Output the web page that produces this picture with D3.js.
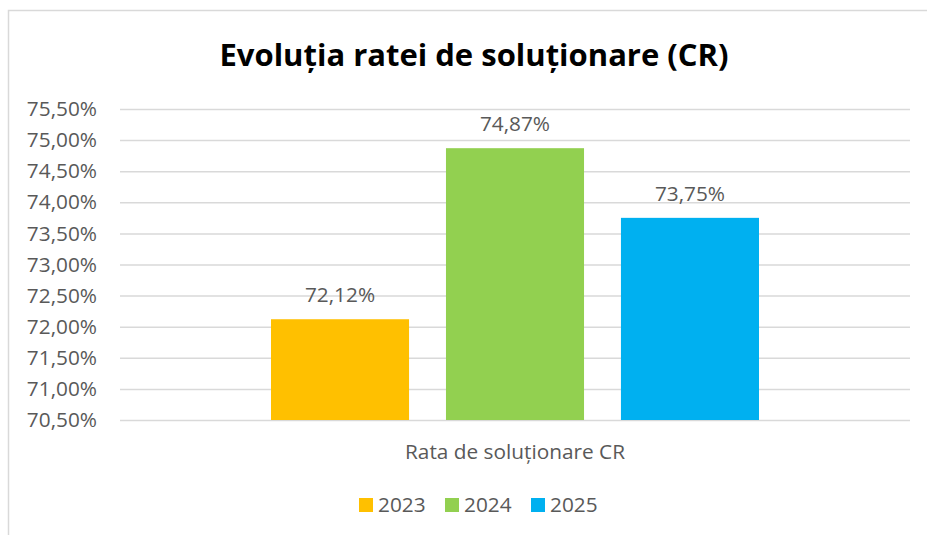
<!DOCTYPE html>
<html>
<head>
<meta charset="utf-8">
<script src="https://cdn.jsdelivr.net/npm/d3@7"></script>
<style>
  body { margin: 0; background: #fff; }
  text { font-family: "Open Sans", Lato, sans-serif; fill: #595959; }
</style>
</head>
<body>
<div id="chart-area"></div>
<script>
// Data
const years = ["2023", "2024", "2025"]
const rates = [72.12, 74.87, 73.75]
const colors = ["#FFC000", "#92D050", "#00B0F0"]
const yTicks = [70.5, 71, 71.5, 72, 72.5, 73, 73.5, 74, 74.5, 75, 75.5]
const category = "Rata de soluționare CR"
const title = "Evoluția ratei de soluționare (CR)"

const W = 927, H = 535
const plot = { left: 120, right: 910, top: 109, bottom: 420 }
const fontSize = "20.8px"

const fmt = v => d3.format(".2f")(v).replace(".", ",") + "%"

const svg = d3.select("#chart-area")
  .append("svg")
    .attr("width", W)
    .attr("height", H)

// chart frame
svg.append("rect")
  .attr("x", 8.5)
  .attr("y", 10.5)
  .attr("width", W + 20)
  .attr("height", H + 20)
  .attr("fill", "#fff")
  .attr("stroke", "#d9d9d9")
  .attr("stroke-width", 1.5)

// Scales
const y = d3.scaleLinear()
  .domain([70.5, 75.5])
  .range([plot.bottom, plot.top])

const x = d3.scaleBand()
  .domain(years)
  .range([plot.left, plot.right])
  .paddingInner(0.211)
  .paddingOuter(0.863)

// Gridlines + Y axis
const yAxisCall = d3.axisLeft(y)
  .tickValues(yTicks)
  .tickSize(-(plot.right - plot.left))
  .tickPadding(23)
  .tickFormat(fmt)

const yAxisGroup = svg.append("g")
  .attr("transform", `translate(${plot.left}, 0)`)
  .call(yAxisCall)

yAxisGroup.select(".domain").remove()
yAxisGroup.selectAll("line")
  .attr("stroke", "#d9d9d9")
  .attr("stroke-width", 1.5)
yAxisGroup.selectAll("text")
  .attr("font-size", fontSize)
  .attr("fill", "#595959")

// Bars
svg.selectAll("rect.bar")
  .data(rates)
  .enter()
  .append("rect")
    .attr("class", "bar")
    .attr("x", (d, i) => x(years[i]))
    .attr("y", d => y(d))
    .attr("width", x.bandwidth())
    .attr("height", d => y(70.5) - y(d))
    .attr("fill", (d, i) => colors[i])

// Value labels
svg.selectAll("text.val")
  .data(rates)
  .enter()
  .append("text")
    .attr("class", "val")
    .attr("x", (d, i) => x(years[i]) + x.bandwidth() / 2)
    .attr("y", d => y(d) - 17)
    .attr("text-anchor", "middle")
    .attr("font-size", fontSize)
    .text(fmt)

// Title
svg.append("text")
  .attr("x", 474)
  .attr("y", 66)
  .attr("text-anchor", "middle")
  .attr("font-size", "31px")
  .attr("font-weight", "bold")
  .style("fill", "#000")
  .text(title)

// Category label
svg.append("text")
  .attr("x", (plot.left + plot.right) / 2)
  .attr("y", 459)
  .attr("text-anchor", "middle")
  .attr("font-size", fontSize)
  .text(category)

// Legend
const legend = svg.append("g")
  .attr("transform", "translate(359, 498)")

years.forEach((yr, i) => {
  const row = legend.append("g")
    .attr("transform", `translate(${i * 86}, 0)`)
  row.append("rect")
    .attr("width", 14)
    .attr("height", 14)
    .attr("fill", colors[i])
  row.append("text")
    .attr("x", 19)
    .attr("y", 14)
    .attr("font-size", fontSize)
    .text(yr)
})
</script>
</body>
</html>
